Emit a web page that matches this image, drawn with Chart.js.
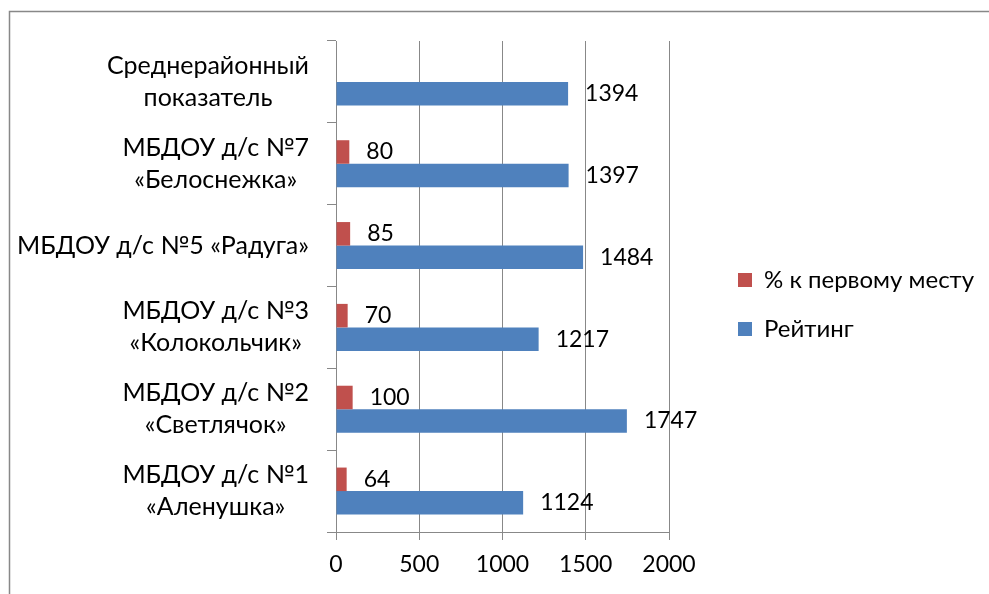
<!DOCTYPE html>
<html>
<head>
<meta charset="utf-8">
<script src="https://cdn.jsdelivr.net/npm/chart.js@4/dist/chart.umd.min.js"></script>
<style>
  html, body { margin: 0; padding: 0; background: #fff; }
  #wrap { position: relative; width: 989px; height: 594px; }
</style>
</head>
<body>
<div id="wrap"><canvas id="ratingChart"></canvas></div>
<script>
const categories = [
    ["Среднерайонный", "показатель"],
    ["МБДОУ д/с №7", "«Белоснежка»"],
    "МБДОУ д/с №5 «Радуга»",
    ["МБДОУ д/с №3", "«Колокольчик»"],
    ["МБДОУ д/с №2", "«Светлячок»"],
    ["МБДОУ д/с №1", "«Аленушка»"]
];
const seriesNames = ["% к первому месту", "Рейтинг"];
const percentValues = [null, 80, 85, 70, 100, 64];
const ratingValues = [1394, 1397, 1484, 1217, 1747, 1124];
const xTicks = [0, 500, 1000, 1500, 2000];

const FONT_FAMILY = "Lato";
const NUM_SIZE = 23;
const CAT_SIZE = 25;
const LEG_SIZE = 24;
const GRID = "#888888";
const LEG_PAD = 25;
const LEG_BOX = 14;

// frame round the whole chart (right and bottom edges are off-screen)
const framePlugin = {
    id: "frame",
    beforeDraw(chart) {
        const ctx = chart.ctx;
        ctx.save();
        ctx.strokeStyle = GRID;
        ctx.lineWidth = 1.5;
        ctx.strokeRect(9.5, 11.5, 2000, 2000);
        ctx.restore();
    }
};

// category labels: block right-aligned, lines centred within block
const yLabelPlugin = {
    id: "yLabels",
    afterDraw(chart) {
        const ctx = chart.ctx;
        const y = chart.scales.y;
        ctx.save();
        ctx.font = CAT_SIZE + "px " + FONT_FAMILY;
        ctx.fillStyle = "#000";
        ctx.textAlign = "center";
        ctx.textBaseline = "middle";
        categories.forEach((lab, i) => {
            const lines = Array.isArray(lab) ? lab : [lab];
            const w = Math.max(...lines.map(l => ctx.measureText(l).width));
            const cx = y.right - 27 - w / 2;
            const py = y.getPixelForTick(i);
            const lh = 32;
            const y0 = py - (lines.length - 1) * lh / 2;
            lines.forEach((l, k) => ctx.fillText(l, cx, y0 + k * lh));
        });
        ctx.restore();
    }
};

// value labels to the right of each bar
const valueLabelPlugin = {
    id: "valueLabels",
    afterDatasetsDraw(chart) {
        const ctx = chart.ctx;
        ctx.save();
        ctx.font = NUM_SIZE + "px " + FONT_FAMILY;
        ctx.fillStyle = "#000";
        ctx.textAlign = "left";
        ctx.textBaseline = "middle";
        chart.data.datasets.forEach((ds, di) => {
            chart.getDatasetMeta(di).data.forEach((bar, i) => {
                if (ds.data[i] == null) return;
                ctx.fillText(String(ds.data[i]), bar.x + 17, bar.y);
            });
        });
        ctx.restore();
    }
};

// move the legend out to the right of the plot, as in the original
const legendShift = {
    id: "legendShift",
    afterLayout(chart) {
        const lg = chart.legend;
        const dx = 738 - (lg.left + LEG_PAD);
        lg.left += dx;
        lg.right += dx;
        const dy = 59;
        lg.top += dy;
        lg.bottom += dy;
    }
};

const ctx = document.getElementById("ratingChart");

new Chart(ctx, {
    type: "bar",
    data: {
        labels: categories,
        datasets: [
            {
                label: seriesNames[0],
                data: percentValues,
                backgroundColor: "#C0504D"
            },
            {
                label: seriesNames[1],
                data: ratingValues,
                backgroundColor: "#4F81BD"
            }
        ]
    },
    options: {
        indexAxis: "y",
        responsive: true,
        maintainAspectRatio: false,
        animation: false,
        layout: { padding: { top: 41, left: 0, right: 989 - 669, bottom: 0 } },
        datasets: {
            bar: { categoryPercentage: 0.575, barPercentage: 1.0 }
        },
        scales: {
            x: {
                min: 0,
                max: 2000,
                afterBuildTicks(scale) {
                    scale.ticks = xTicks.map(v => ({ value: v }));
                },
                afterFit(scale) { scale.height = 594 - 532; },
                grid: { color: GRID, lineWidth: 1, tickLength: 8 },
                border: { color: GRID, width: 1 },
                ticks: {
                    color: "#000",
                    padding: 11,
                    font: { family: FONT_FAMILY, size: NUM_SIZE },
                    callback: v => String(v)
                }
            },
            y: {
                afterFit(scale) { scale.width = 336; },
                grid: { drawOnChartArea: false, color: GRID, lineWidth: 1, tickLength: 9 },
                border: { color: GRID, width: 1 },
                ticks: { display: false }
            }
        },
        plugins: {
            tooltip: { enabled: false },
            legend: {
                position: "chartArea",
                align: "center",
                labels: {
                    color: "#000",
                    boxWidth: LEG_BOX,
                    boxHeight: LEG_BOX,
                    padding: LEG_PAD,
                    font: { family: FONT_FAMILY, size: LEG_SIZE }
                }
            }
        }
    },
    plugins: [framePlugin, yLabelPlugin, valueLabelPlugin, legendShift]
});
</script>
</body>
</html>
